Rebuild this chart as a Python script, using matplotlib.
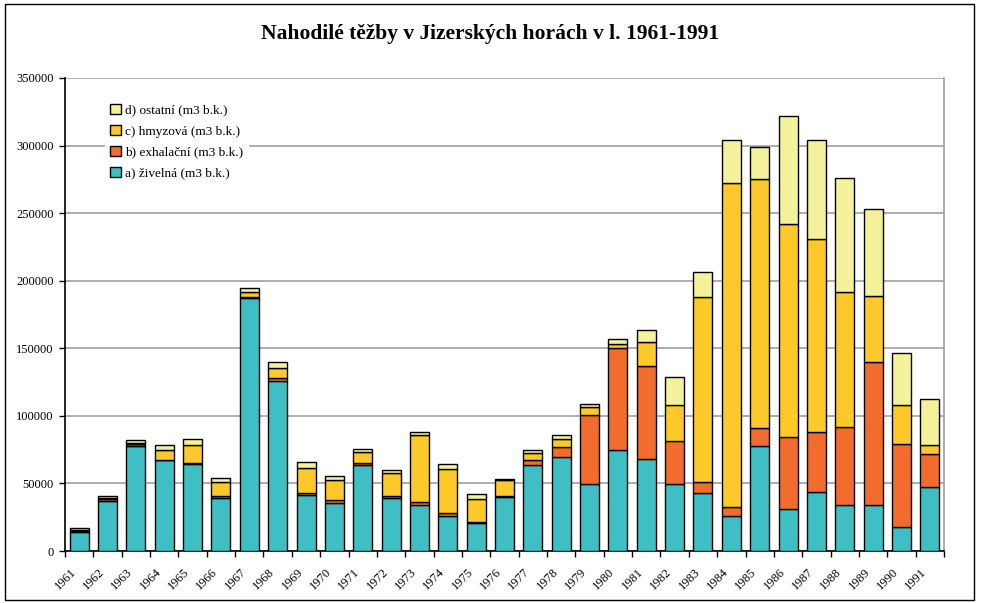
import matplotlib
matplotlib.use("Agg")
import matplotlib.pyplot as plt
import matplotlib.transforms as mtransforms
from matplotlib.patches import Rectangle
import numpy as np

plt.rcParams['font.family'] = ['Liberation Serif', 'DejaVu Serif']

# data (m3 b.k.)
years = list(range(1961, 1992))
zivelna = [13800, 37300, 77500, 67100, 64700, 39400, 187500, 125800, 41400, 35500,
           63900, 39400, 33800, 26200, 20500, 40100, 63400, 69500, 49300, 74700,
           68300, 49300, 43100, 26000, 78000, 31400, 43600, 34400, 34400, 18100, 47000]
exhalacni = [800, 900, 1600, 400, 400, 1300, 800, 2000, 1500, 2000,
             1300, 1500, 2200, 2000, 1000, 700, 4200, 7700, 51700, 75300,
             68600, 32400, 7600, 6900, 13300, 53200, 44300, 57700, 105400, 61100, 24500]
hmyzova = [1000, 1200, 800, 7200, 13500, 10500, 3600, 7400, 18800, 14900,
           8100, 16900, 49500, 32700, 17100, 11700, 4900, 6000, 5400, 3500,
           17800, 26200, 136900, 239600, 184200, 157500, 143000, 99700, 49000, 29200, 7200]
ostatni = [1300, 1500, 1900, 3900, 4400, 2900, 2500, 4900, 4000, 3000,
           2400, 2200, 2200, 3500, 3500, 500, 2500, 2400, 2500, 3400,
           9100, 21000, 19100, 31900, 23700, 79700, 73500, 84200, 64100, 37900, 33700]

labels = ['a) živelná (m3 b.k.)', 'b) exhalační (m3 b.k.)',
          'c) hmyzová (m3 b.k.)', 'd) ostatní (m3 b.k.)']
colors = ['#3FBFC4', '#F26C2D', '#FDC92A', '#F3F19A']

fig = plt.figure(figsize=(9.81, 6.03), dpi=100)
ax = fig.add_axes([65/981, 1 - 551/603, (944 - 65)/981, (551 - 78)/603])

x = np.arange(len(years))
bottom = np.zeros(len(years))
handles = []
for vals, lab, col in zip([zivelna, exhalacni, hmyzova, ostatni], labels, colors):
    b = ax.bar(x, vals, width=0.67, bottom=bottom, color=col, edgecolor='black',
               linewidth=1.0, label=lab, zorder=3)
    handles.append(b)
    bottom += np.array(vals)

ax.set_xlim(-0.5, len(years) - 0.5)
ax.set_ylim(0, 350000)
ax.set_yticks(range(0, 350001, 50000))
ax.set_yticklabels([str(v) for v in range(0, 350001, 50000)], fontsize=9)
ax.yaxis.grid(True, color='#A0A0A4', linewidth=1.2, zorder=0)
ax.tick_params(axis='y', length=4, width=1, direction='out', pad=4)

# ticks between categories, labels at centres
ax.set_xticks(np.arange(-0.5, len(years), 1.0))
ax.set_xticklabels([])
ax.set_xticks(x, minor=True)
ax.set_xticklabels([str(y) for y in years], minor=True, rotation=45,
                   fontsize=9, ha='right', va='center', rotation_mode='anchor')
ax.tick_params(axis='x', which='major', length=4, width=1, direction='out')
ax.tick_params(axis='x', which='minor', length=0, pad=14)
shift = mtransforms.ScaledTranslation(-5/100, 0, fig.dpi_scale_trans)
for t in ax.get_xticklabels(minor=True):
    t.set_transform(t.get_transform() + shift)

for s in ['left', 'bottom']:
    ax.spines[s].set_color('black')
    ax.spines[s].set_linewidth(1.2)
ax.spines['right'].set_color('#A0A0A4')
ax.spines['right'].set_linewidth(1.2)
ax.spines['top'].set_visible(False)

leg = ax.legend(handles[::-1], labels[::-1], loc='upper left',
                bbox_to_anchor=(0.038, 0.97), fontsize=9.5, frameon=True,
                handlelength=0.8, handleheight=0.8, handletextpad=0.3,
                labelspacing=0.62, borderpad=0.4, fancybox=False)
leg.get_frame().set_edgecolor('white')
leg.get_frame().set_facecolor('white')
leg.get_frame().set_alpha(1)

fig.text(490/981, 1 - 34/603, 'Nahodilé těžby v Jizerských horách v l. 1961-1991',
         ha='center', va='center', fontsize=15.5, fontweight='bold')

fig.patches.append(Rectangle((5/981, 3/603), 969/981, 596/603, transform=fig.transFigure,
                             fill=False, edgecolor='black', linewidth=1.0))

fig.savefig('out.png', dpi=100)
